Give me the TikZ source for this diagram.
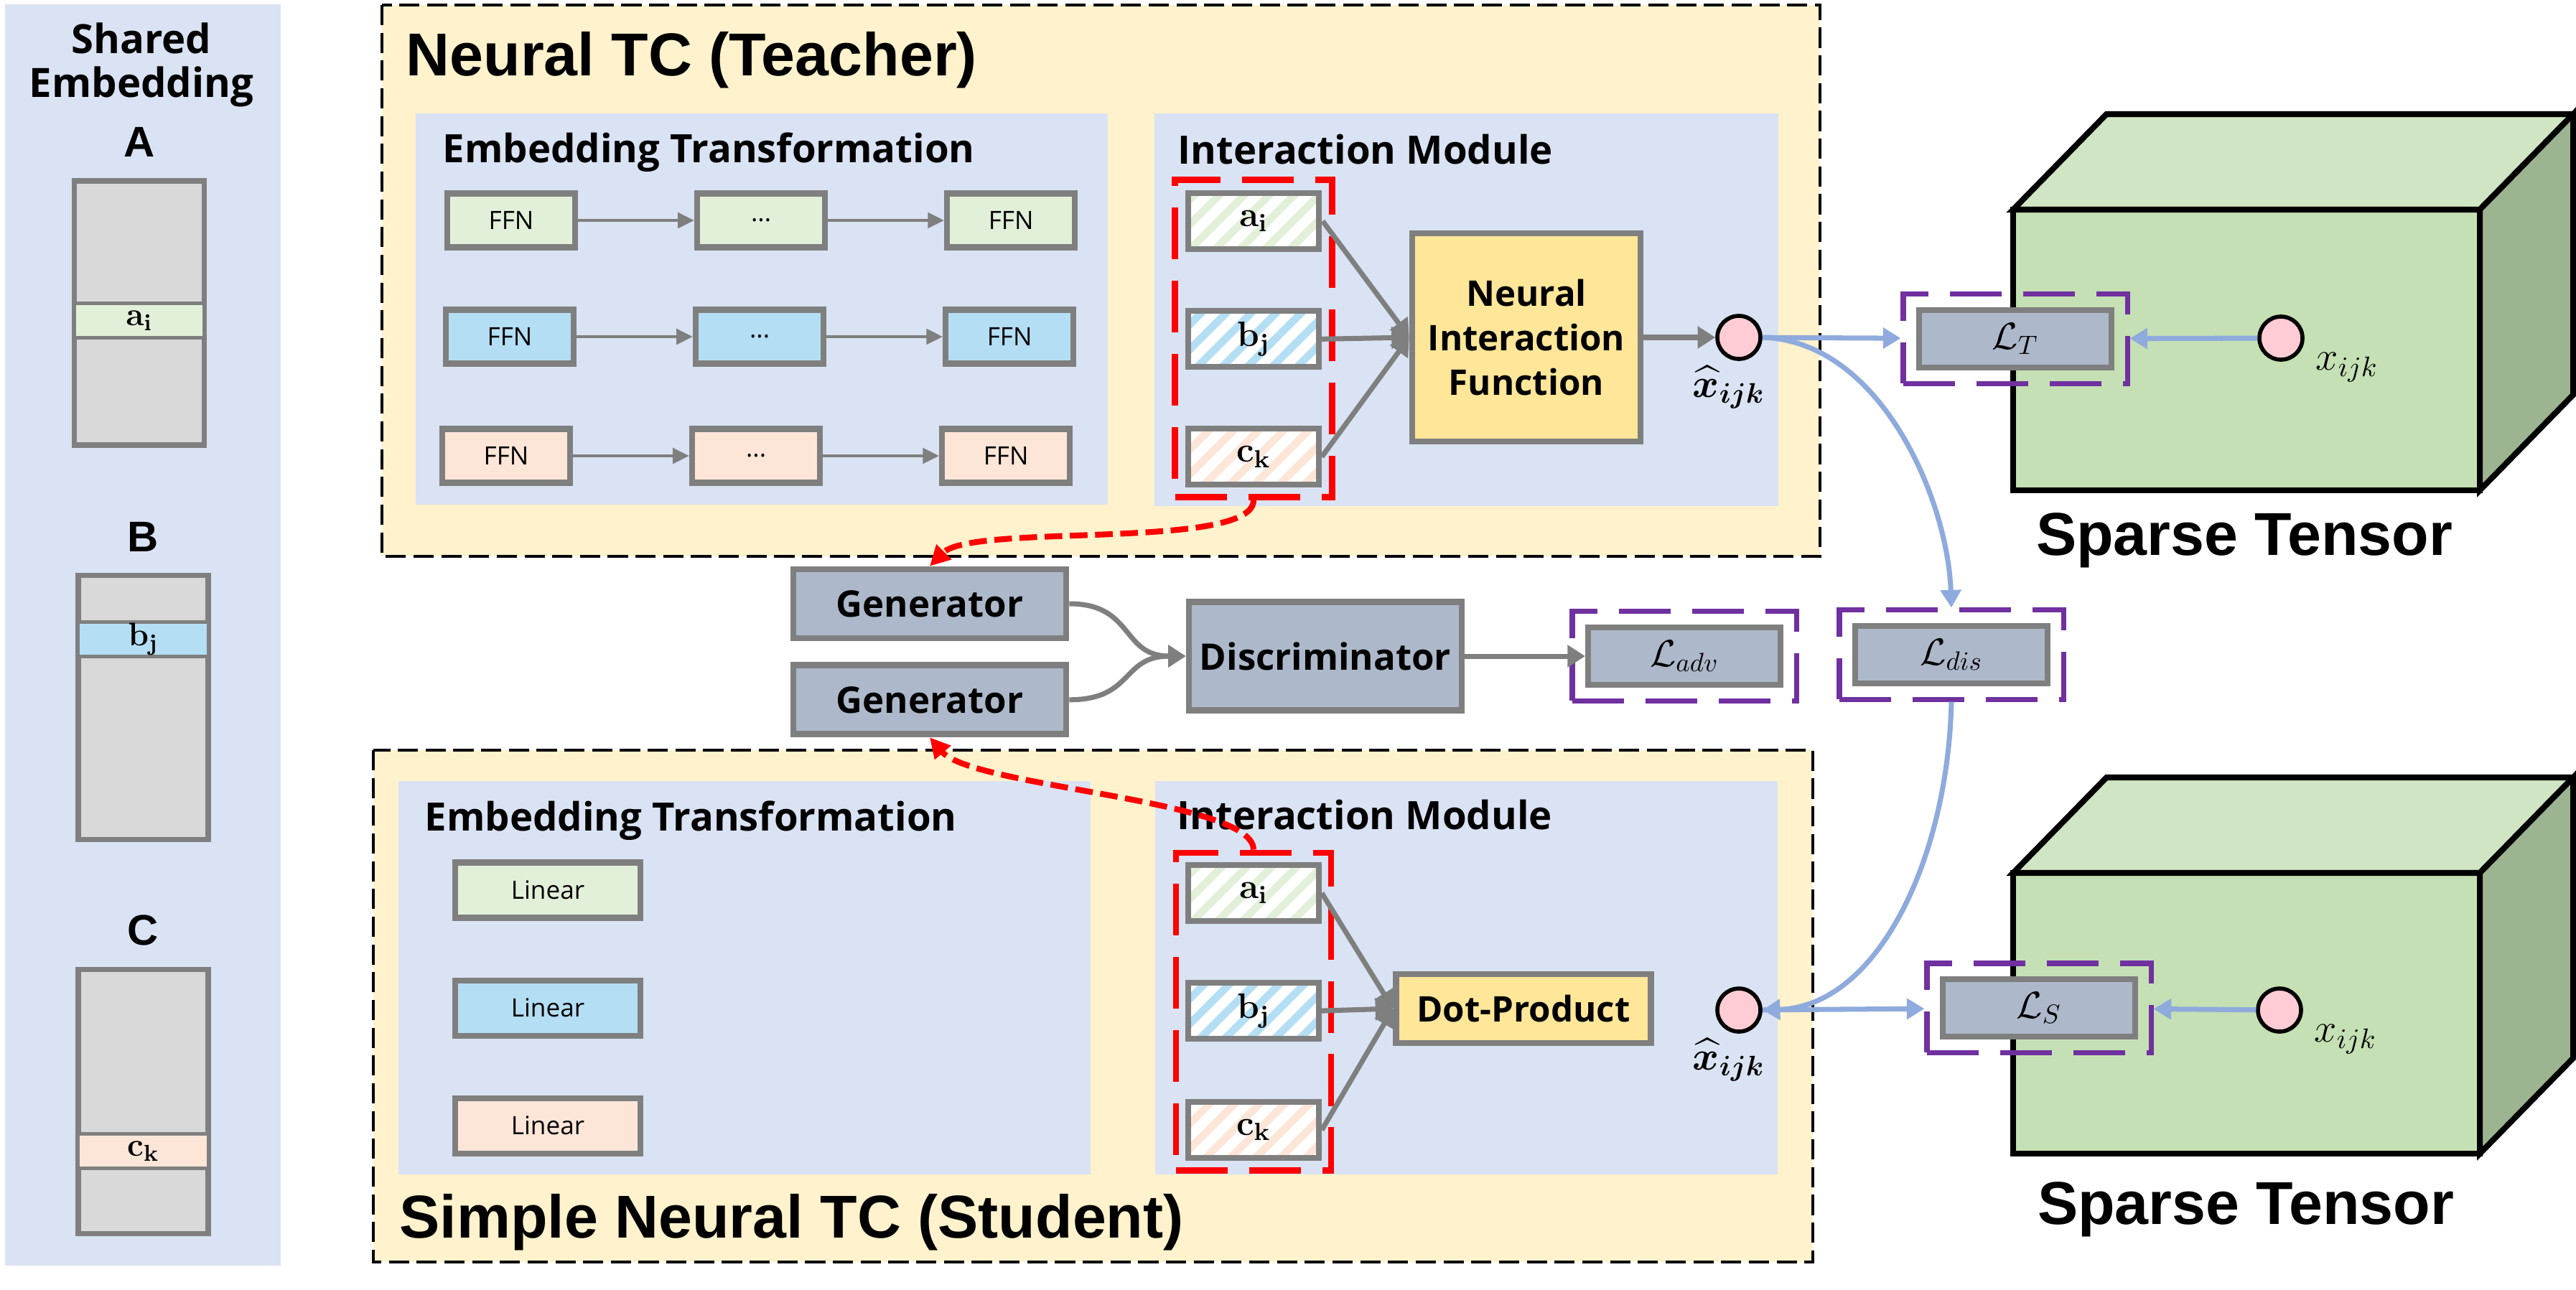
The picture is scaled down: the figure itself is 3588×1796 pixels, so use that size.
\RequirePackage{fix-cm}
\documentclass[tikz,border=0pt]{standalone}
\usepackage[no-math]{fontspec}
\usepackage{amsmath}
\usepackage{bm}
\setmainfont{Open Sans}
\newfontfamily\titlefont{Liberation Sans}
\usetikzlibrary{arrows.meta,positioning,fit,patterns.meta}

\definecolor{panelblue}{HTML}{DAE3F3}
\definecolor{tcyellow}{HTML}{FFF2CC}
\definecolor{boxgray}{HTML}{7F7F7F}
\definecolor{matgray}{HTML}{D9D9D9}
\definecolor{embgreen}{HTML}{E2F0D9}
\definecolor{embblue}{HTML}{B4DEF4}
\definecolor{embpeach}{HTML}{FDE6D8}
\definecolor{ganblue}{HTML}{ADB9CA}
\definecolor{nifyellow}{HTML}{FFE699}
\definecolor{losspurple}{HTML}{7030A0}
\definecolor{arrowblue}{HTML}{8FAADC}
\definecolor{pointpink}{HTML}{FFCCD5}
\definecolor{cubefront}{HTML}{C5E0B4}
\definecolor{cubetop}{HTML}{D0E5C3}
\definecolor{cubeside}{HTML}{9DB491}

\begin{document}
\begin{tikzpicture}
%Teacher / student distillation overview
	[
	 %Styles
	 x=0.1mm, y=-0.1mm,
	 every node/.style={inner sep=0pt},
	 tc_frame/.style={draw=black, line width=1.2pt, dash pattern=on 8pt off 3pt, fill=tcyellow},
	 panel/.style={fill=panelblue},
	 title_text/.style={font=\titlefont\bfseries\fontsize{24}{28}\selectfont, anchor=base west},
	 head_text/.style={font=\bfseries\fontsize{15.5}{18}\selectfont, anchor=base west},
	 ffn_node/.style={rectangle, draw=boxgray, line width=2.3pt, minimum width=17.8mm, minimum height=7.5mm, font=\fontsize{10}{12}\selectfont},
	 linear_node/.style={ffn_node, minimum width=25.8mm, minimum height=7.7mm},
	 hatch/.style={pattern={Lines[angle=45,distance=7pt,line width=3pt]}, pattern color=#1},
	 emb_node/.style={rectangle, draw=boxgray, line width=2.3pt, minimum width=18.2mm, minimum height=7.8mm, preaction={fill=white}, font=\fontsize{14}{16}\selectfont},
	 emb_group/.style={rectangle, draw=red, line width=2.5pt, dash pattern=on 20.5pt off 8.5pt, inner sep=1.3mm},
	 func_node/.style={rectangle, draw=boxgray, line width=2.4pt, fill=nifyellow, align=center, font=\bfseries\fontsize{14}{17.6}\selectfont},
	 gan_node/.style={rectangle, draw=boxgray, line width=2.5pt, fill=ganblue, minimum width=38mm, minimum height=9.6mm, font=\bfseries\fontsize{14.5}{17}\selectfont},
	 loss_node/.style={rectangle, draw=boxgray, line width=2.3pt, fill=ganblue, minimum width=26.8mm, minimum height=8mm, font=\fontsize{15}{18}\selectfont},
	 loss_group/.style={rectangle, draw=losspurple, line width=2pt, dash pattern=on 20.5pt off 8.5pt, inner sep=1.8mm},
	 point_node/.style={circle, draw=black, line width=1.6pt, fill=pointpink, minimum size=6mm},
	 point_label/.style={font=\fontsize{16}{19}\selectfont},
	 mat_node/.style={rectangle, draw=boxgray, line width=2pt, fill=matgray, minimum width=18.1mm, minimum height=36.8mm},
	 row_node/.style={rectangle, draw=boxgray, line width=1.4pt, minimum width=18.1mm, minimum height=4.8mm, font=\fontsize{13}{15}\selectfont},
	 mat_label/.style={font=\titlefont\bfseries\fontsize{17}{20}\selectfont},
	 cube_line/.style={draw=black, line width=2.3pt, line join=miter},
	 gray_arrow/.style={draw=boxgray, line width=1.4pt, -{Triangle[length=6.5pt,width=6pt]}},
	 thick_arrow/.style={draw=boxgray, line width=2pt, -{Triangle[length=7pt,width=8.5pt]}},
	 blue_arrow/.style={draw=arrowblue, line width=2pt, -{Triangle[length=7pt,width=8pt]}},
	 red_arrow/.style={draw=red, line width=2.3pt, dash pattern=on 7pt off 3pt, -{Triangle[length=8pt,width=8pt]}}
	]
	\useasboundingbox (0,0) rectangle (3588,1796);

	%Shared embedding
	\fill[panel] (7,6) rectangle (391,1763);
	\node[align=center, anchor=north, font=\bfseries\fontsize{16}{17.5}\selectfont] (shared_title) at (197,31) {Shared\\Embedding};
	\node[mat_node] (mat_a) at (194,436) {};
	\node[row_node, fill=embgreen] (row_a) at (194,446.5) {$\mathbf{a}_\mathbf{i}$};
	\node[mat_label, above=2.9mm of mat_a] (lbl_a) {A};
	\node[mat_node] (mat_b) at (199.5,985.5) {};
	\node[row_node, fill=embblue] (row_b) at (199.5,890.5) {$\mathbf{b}_\mathbf{j}$};
	\node[mat_label, above=2.9mm of mat_b] (lbl_b) {B};
	\node[mat_node] (mat_c) at (199.5,1534) {};
	\node[row_node, fill=embpeach] (row_c) at (199.5,1603.5) {$\mathbf{c}_\mathbf{k}$};
	\node[mat_label, above=2.9mm of mat_c] (lbl_c) {C};

	%Frames and panels
	\draw[tc_frame] (532,7) rectangle (2535,775);
	\fill[panel] (579,158) rectangle (1543,703);
	\fill[panel] (1608,158) rectangle (2477,705);
	\draw[tc_frame] (520,1045) rectangle (2525,1758);
	\fill[panel] (555,1088) rectangle (1519,1636);
	\fill[panel] (1609,1088) rectangle (2476,1636);

	%Sparse tensors
	\foreach \cy in {292,1216} {
	  \filldraw[cube_line, fill=cubefront] (2804,\cy) rectangle (3454,{\cy+391});
	  \filldraw[cube_line, fill=cubetop] (2804,\cy) -- (2934,{\cy-133}) -- (3584,{\cy-133}) -- (3454,\cy) -- cycle;
	  \filldraw[cube_line, fill=cubeside] (3454,\cy) -- (3584,{\cy-133}) -- (3584,{\cy+258}) -- (3454,{\cy+391}) -- cycle;
	}
	\node[title_text, anchor=base] (t_tensor_lbl) at (3126,773) {Sparse Tensor};
	\node[title_text, anchor=base] (s_tensor_lbl) at (3128,1705) {Sparse Tensor};

	%Teacher
	\node[title_text] (teacher_title) at (565,105) {Neural TC (Teacher)};
	\node[head_text] (t_emb_title) at (616,226) {Embedding Transformation};
	\node[head_text] (t_im_title) at (1640,228) {Interaction Module};

	\node[ffn_node, fill=embgreen] (t_ffn11) at (712,307) {FFN};
	\node[ffn_node, fill=embgreen, right=16.2mm of t_ffn11] (t_ffn12) {...};
	\node[ffn_node, fill=embgreen, right=16.2mm of t_ffn12] (t_ffn13) {FFN};
	\node[ffn_node, fill=embblue] (t_ffn21) at (710,469) {FFN};
	\node[ffn_node, fill=embblue, right=16.2mm of t_ffn21] (t_ffn22) {...};
	\node[ffn_node, fill=embblue, right=16.2mm of t_ffn22] (t_ffn23) {FFN};
	\node[ffn_node, fill=embpeach] (t_ffn31) at (705,635) {FFN};
	\node[ffn_node, fill=embpeach, right=16.2mm of t_ffn31] (t_ffn32) {...};
	\node[ffn_node, fill=embpeach, right=16.2mm of t_ffn32] (t_ffn33) {FFN};

	\node[emb_node, hatch=embgreen] (t_a) at (1746,308) {$\mathbf{a}_\mathbf{i}$};
	\node[emb_node, hatch=embblue, below=7.7mm of t_a] (t_b) {$\mathbf{b}_\mathbf{j}$};
	\node[emb_node, hatch=embpeach, below=7.8mm of t_b] (t_c) {$\mathbf{c}_\mathbf{k}$};
	\node[emb_group, fit=(t_a) (t_b) (t_c)] (t_grp) {};
	\node[func_node, minimum width=31.8mm, minimum height=29mm] (t_nif) at (2126,470) {Neural\\Interaction\\Function};
	\node[point_node] (t_xhat) at (2422,470) {};
	\node[point_label, below=0.6mm of t_xhat, xshift=-1.4mm] (t_xhat_lbl) {$\bm{\widehat{x}}_{\bm{ijk}}$};

	\node[loss_node] (lt) at (2807,472) {$\mathcal{L}_T$};
	\node[loss_group, fit=(lt)] (lt_grp) {};
	\node[point_node] (t_x) at (3177,471) {};
	\node[point_label, anchor=north west] (t_x_lbl) at ([xshift=1.5mm,yshift=-2mm]t_x.east) {$x_{ijk}$};

	%Adversarial part
	\node[gan_node] (gen_t) at (1295,841) {Generator};
	\node[gan_node, below=2.9mm of gen_t] (gen_s) {Generator};
	\node[gan_node, minimum height=15.1mm] (disc) at (1846,914) {Discriminator};
	\node[loss_node] (ladv) at (2346,914) {$\mathcal{L}_{adv}$};
	\node[loss_group, fit=(ladv)] (ladv_grp) {};
	\node[loss_node] (ldis) at (2718,912) {$\mathcal{L}_{dis}$};
	\node[loss_group, fit=(ldis)] (ldis_grp) {};

	%Student
	\node[title_text] (student_title) at (556,1724) {Simple Neural TC (Student)};
	\node[head_text] (s_emb_title) at (591,1157) {Embedding Transformation};
	\node[head_text] (s_im_title) at (1639,1155) {Interaction Module};

	\node[linear_node, fill=embgreen] (s_lin1) at (763,1240) {Linear};
	\node[linear_node, fill=embblue, below=7.9mm of s_lin1] (s_lin2) {Linear};
	\node[linear_node, fill=embpeach, below=7.9mm of s_lin2] (s_lin3) {Linear};

	\node[emb_node, hatch=embgreen] (s_a) at (1746,1244) {$\mathbf{a}_\mathbf{i}$};
	\node[emb_node, hatch=embblue, below=7.8mm of s_a] (s_b) {$\mathbf{b}_\mathbf{j}$};
	\node[emb_node, hatch=embpeach, below=8mm of s_b] (s_c) {$\mathbf{c}_\mathbf{k}$};
	\node[emb_group, fit=(s_a) (s_b) (s_c)] (s_grp) {};
	\node[func_node, minimum width=35.5mm, minimum height=9.6mm] (s_dot) at (2122,1405) {Dot-Product};
	\node[point_node] (s_xhat) at (2422,1407) {};
	\node[point_label, below=0.6mm of s_xhat, xshift=-1.4mm] (s_xhat_lbl) {$\bm{\widehat{x}}_{\bm{ijk}}$};

	\node[loss_node] (ls) at (2840,1404) {$\mathcal{L}_S$};
	\node[loss_group, fit=(ls)] (ls_grp) {};
	\node[point_node] (s_x) at (3175,1407) {};
	\node[point_label, anchor=north west] (s_x_lbl) at ([xshift=1.5mm,yshift=-2mm]s_x.east) {$x_{ijk}$};

	%Edges
	\path
	    (t_ffn11) edge [gray_arrow] (t_ffn12)
	    (t_ffn12) edge [gray_arrow] (t_ffn13)
	    (t_ffn21) edge [gray_arrow] (t_ffn22)
	    (t_ffn22) edge [gray_arrow] (t_ffn23)
	    (t_ffn31) edge [gray_arrow] (t_ffn32)
	    (t_ffn32) edge [gray_arrow] (t_ffn33)
	    (t_a.east) edge [thick_arrow] (t_nif.west)
	    (t_b.east) edge [thick_arrow] (t_nif.west)
	    (t_c.east) edge [thick_arrow] (t_nif.west)
	    (t_nif) edge [thick_arrow] (t_xhat)
	    (s_a.east) edge [thick_arrow] (s_dot.west)
	    (s_b.east) edge [thick_arrow] (s_dot.west)
	    (s_c.east) edge [thick_arrow] (s_dot.west)
	    (disc.east) edge [thick_arrow] (ladv.west)
	    (t_xhat) edge [blue_arrow] (lt_grp)
	    (t_x) edge [blue_arrow] (lt_grp)
	    (s_xhat) edge [blue_arrow] (ls_grp)
	    (s_x) edge [blue_arrow] (ls_grp);

	\draw[thick_arrow] (gen_t.east) .. controls +(90,0) and +(-90,0) .. (disc.west);
	\draw[thick_arrow] (gen_s.east) .. controls +(90,0) and +(-90,0) .. (disc.west);
	\draw[blue_arrow] (t_xhat.east) .. controls +(165,5) and +(-5,-150) .. (ldis_grp.north);
	\draw[blue_arrow] (ldis_grp.south) .. controls +(-5,220) and +(160,-5) .. (s_xhat.east);
	\draw[red_arrow] (t_grp.south) .. controls +(0,70) and +(60,-60) .. (gen_t.north);
	\draw[red_arrow] (s_grp.north) .. controls +(0,-70) and +(60,70) .. (gen_s.south);
\end{tikzpicture}
\end{document}
